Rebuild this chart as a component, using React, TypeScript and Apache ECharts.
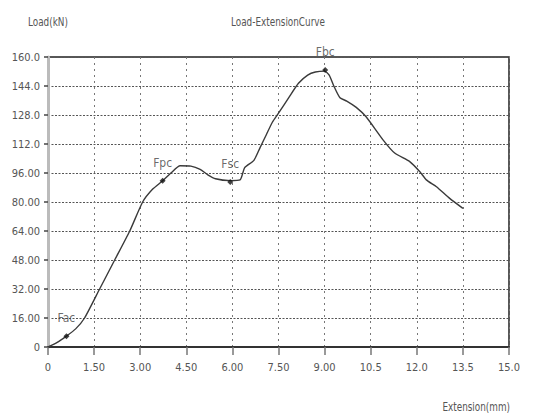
import React, { useEffect, useRef } from "react";
import * as echarts from "echarts";

const extension = [0, 0.3, 0.6, 0.9, 1.19, 1.68, 2.17, 2.66, 3.08, 3.4, 3.73, 4.0, 4.3, 4.65, 4.95, 5.2, 5.45, 5.93, 6.25, 6.4, 6.7, 6.9, 7.1, 7.3, 7.5, 7.85, 8.15, 8.45, 8.7, 9.0, 9.15, 9.3, 9.5, 9.72, 10.03, 10.35, 10.9, 11.28, 11.77, 12.1, 12.31, 12.64, 13.07, 13.5];
const load = [0, 2.5, 6, 10, 16, 32, 48, 64, 80, 87, 91.7, 96, 100, 99.8, 98, 95, 92.8, 91.8, 92.2, 99, 103, 110, 117, 124, 129, 138, 145.5, 150, 151.7, 152.2, 150, 144, 137.5, 135.7, 132.2, 127, 114.3, 107, 102.3, 96.7, 92.2, 88.4, 82, 76.5];

const markerNames = ["Fac", "Fpc", "Fsc", "Fbc"];
const markerX = [0.6, 3.73, 5.93, 9.02];
const markerY = [6, 91.7, 91, 152.8];

const xTickValues = [0, 1.5, 3, 4.5, 6, 7.5, 9, 10.5, 12, 13.5, 15];
const xTickLabels = ["0", "1.50", "3.00", "4.50", "6.00", "7.50", "9.00", "10.5", "12.0", "13.5", "15.0"];
const yTickValues = [0, 16, 32, 48, 64, 80, 96, 112, 128, 144, 160];
const yTickLabels = ["0", "16.00", "32.00", "48.00", "64.00", "80.00", "96.00", "112.0", "128.0", "144.0", "160.0"];

const FONT = "'Liberation Sans Narrow', 'DejaVu Sans Condensed', 'Roboto Condensed', sans-serif";

function labelFor(values: number[], labels: string[], v: number): string {
  for (let i = 0; i < values.length; i++) {
    if (Math.abs(values[i] - v) < 1e-6) return labels[i];
  }
  return "";
}

export default function App() {
  const ref = useRef<HTMLDivElement>(null);
  useEffect(() => {
    if (!ref.current) return;
    const chart = echarts.init(ref.current, null, { renderer: "svg" });
    chart.setOption({
      animation: false,
      backgroundColor: "#ffffff",
      grid: {
        left: 48,
        right: 32,
        top: 57,
        bottom: 71,
        show: true,
        borderColor: "#222",
        borderWidth: 1.5,
      },
      xAxis: {
        type: "value",
        min: 0,
        max: 15,
        interval: 1.5,
        axisLine: { show: true, lineStyle: { color: "#333", width: 2 } },
        axisTick: { show: true, length: 8, lineStyle: { color: "#777", width: 1.5 } },
        axisLabel: {
          color: "#555",
          fontFamily: FONT,
          fontSize: 11,
          margin: 15,
          formatter: (v: number) => labelFor(xTickValues, xTickLabels, v),
        },
        splitLine: { show: true, lineStyle: { color: "#777", type: [2, 4], width: 1 } },
      },
      yAxis: {
        type: "value",
        min: 0,
        max: 160,
        interval: 16,
        axisLine: { show: true, lineStyle: { color: "#bbb", width: 3 } },
        axisTick: { show: true, length: 4, lineStyle: { color: "#444", width: 1.5 } },
        axisLabel: {
          color: "#555",
          fontFamily: FONT,
          fontSize: 11,
          margin: 8,
          formatter: (v: number) => labelFor(yTickValues, yTickLabels, v),
        },
        splitLine: { show: true, lineStyle: { color: "#555", type: [2, 1.5], width: 1 } },
      },
      graphic: [
        { type: "text", x: 278, y: 22, scaleX: 0.82, style: { text: "Load-ExtensionCurve", fill: "#555", font: `12px ${FONT}`, textAlign: "center", textVerticalAlign: "middle" } },
        { type: "text", x: 28, y: 22, scaleX: 0.82, style: { text: "Load(kN)", fill: "#555", font: `12px ${FONT}`, textAlign: "left", textVerticalAlign: "middle" } },
        { type: "text", x: 510, y: 407, scaleX: 0.82, style: { text: "Extension(mm)", fill: "#555", font: `12px ${FONT}`, textAlign: "right", textVerticalAlign: "middle" } },
      ],
      series: [
        {
          type: "line",
          data: extension.map((x, i) => [x, load[i]]),
          showSymbol: false,
          smooth: 0.2,
          lineStyle: { color: "#3a3a3a", width: 1.4 },
          z: 3,
        },
        {
          type: "scatter",
          data: markerX.map((x, i) => ({ value: [x, markerY[i]], name: markerNames[i] })),
          symbol: "diamond",
          symbolSize: 6,
          itemStyle: { color: "#111" },
          label: {
            show: true,
            position: "top",
            distance: 9,
            formatter: (p: any) => p.name,
            color: "#444",
            fontFamily: FONT,
            fontSize: 12,
          },
          z: 4,
        },
      ],
    });
    return () => chart.dispose();
  }, []);
  return <div ref={ref} style={{ position: "absolute", left: 0, top: 0, width: 541, height: 418 }} />;
}
